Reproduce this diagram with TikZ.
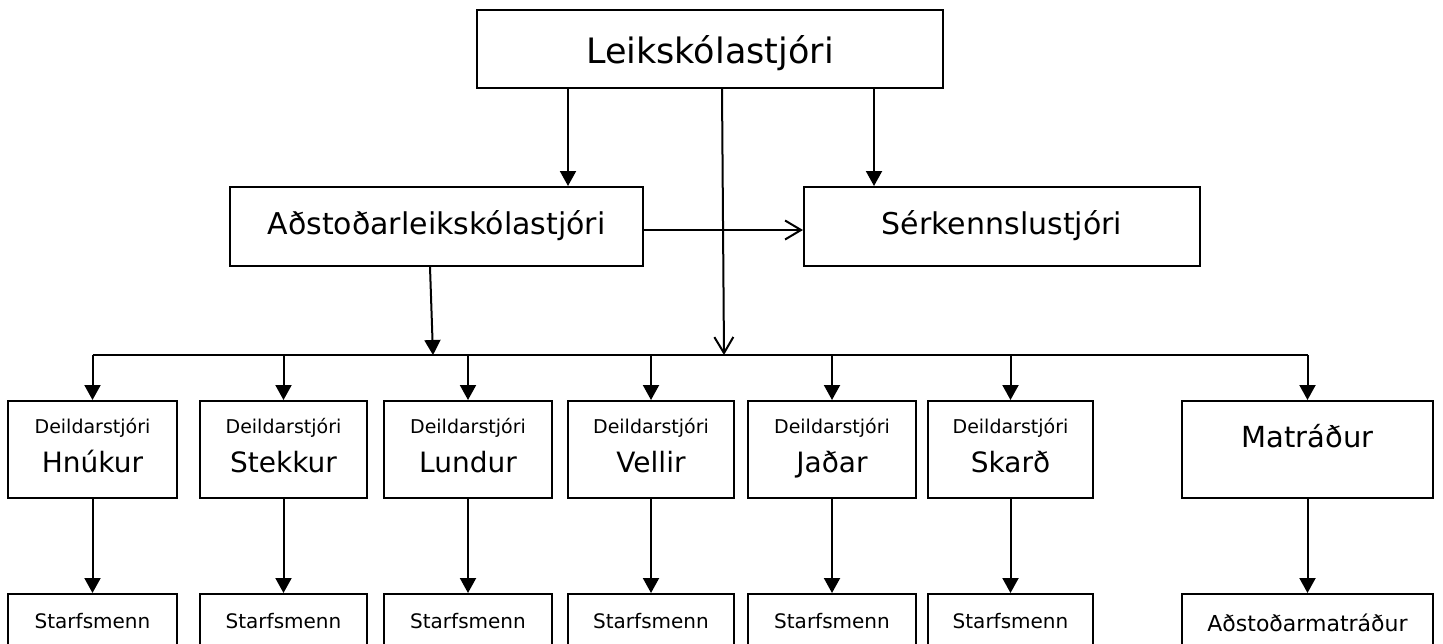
\documentclass[tikz,border=0pt]{standalone}
\usepackage{fontspec}
\setmainfont{DejaVu Sans}
\usetikzlibrary{arrows.meta}

\tikzset{
  box/.style={draw, inner sep=0pt},
  lead/.style={box, minimum width=466pt, minimum height=78pt,
    font=\fontsize{35}{42}\selectfont, text height=28pt, text depth=0pt},
  mid/.style={box, minimum height=79pt,
    font=\fontsize{30}{36}\selectfont, text height=15pt, text depth=0pt},
  dept/.style={box, minimum height=97pt,
    font=\fontsize{28}{34}\selectfont, text height=45pt, text depth=0pt,
    label={[font=\fontsize{19}{23}\selectfont, anchor=base, yshift=-33pt]north:Deildarstjóri}},
  staff/.style={box, minimum height=60pt,
    font=\fontsize{20}{24}\selectfont, text height=8pt, text depth=0pt},
  tri/.style={-{Triangle[length=15pt,width=16pt]}},
  barb/.style={-{Straight Barb[length=16pt,width=19pt]}}
}

\begin{document}
\begin{tikzpicture}[x=1pt, y=-1pt, line width=2pt]
  \clip (0,0) rectangle (1443,643);
  % top levels
  \node[lead] (lead) at (710,49) {Leikskólastjóri};
  \node[mid, minimum width=413pt] (asst) at (436.5,226.5) {Aðstoðarleikskólastjóri};
  \node[mid, minimum width=396pt] (serk) at (1002,226.5) {Sérkennslustjóri};
  % departments
  \node[dept, minimum width=169pt] (hnukur) at (92.5,449.5) {Hnúkur};
  \node[dept, minimum width=167pt] (stekkur) at (283.5,449.5) {Stekkur};
  \node[dept, minimum width=168pt] (lundur) at (468,449.5) {Lundur};
  \node[dept, minimum width=166pt] (vellir) at (651,449.5) {Vellir};
  \node[dept, minimum width=168pt] (jadar) at (832,449.5) {Jaðar};
  \node[dept, minimum width=165pt] (skard) at (1010.5,449.5) {Skarð};
  \node[box, minimum width=251pt, minimum height=97pt,
    font=\fontsize{29}{35}\selectfont, text height=0pt, text depth=5pt] (matr) at (1307.5,449.5) {Matráður};
  % staff
  \node[staff, minimum width=169pt] (hnukurS) at (92.5,624) {Starfsmenn};
  \node[staff, minimum width=167pt] (stekkurS) at (283.5,624) {Starfsmenn};
  \node[staff, minimum width=168pt] (lundurS) at (468,624) {Starfsmenn};
  \node[staff, minimum width=166pt] (vellirS) at (651,624) {Starfsmenn};
  \node[staff, minimum width=168pt] (jadarS) at (832,624) {Starfsmenn};
  \node[staff, minimum width=165pt] (skardS) at (1010.5,624) {Starfsmenn};
  \node[staff, minimum width=251pt, text height=14pt,
    font=\fontsize{22}{26}\selectfont] (matrS) at (1307.5,624) {Aðstoðarmatráður};
  % bus
  \coordinate (bus) at (0,355);
  \coordinate (busA) at (433,355);
  \coordinate (busB) at (724,355);
  \draw[tri] ([xshift=-142pt]lead.south) -- ([xshift=131.5pt]asst.north);
  \draw[tri] ([xshift=164pt]lead.south) -- ([xshift=-128pt]serk.north);
  \draw[barb] ([xshift=12pt]lead.south) -- (busB);
  \draw[barb] ([yshift=-3.5pt]asst.east) -- ([yshift=-3.5pt]serk.west);
  \draw[tri] ([xshift=-6.5pt]asst.south) -- (busA);
  \draw (hnukur.north |- bus) -- (matr.north |- bus);
  \draw[tri] (hnukur.north |- bus) -- (hnukur.north);
  \draw[tri] (stekkur.north |- bus) -- (stekkur.north);
  \draw[tri] (lundur.north |- bus) -- (lundur.north);
  \draw[tri] (vellir.north |- bus) -- (vellir.north);
  \draw[tri] (jadar.north |- bus) -- (jadar.north);
  \draw[tri] (skard.north |- bus) -- (skard.north);
  \draw[tri] (matr.north |- bus) -- (matr.north);
  \draw[tri] (hnukur) -- (hnukurS);
  \draw[tri] (stekkur) -- (stekkurS);
  \draw[tri] (lundur) -- (lundurS);
  \draw[tri] (vellir) -- (vellirS);
  \draw[tri] (jadar) -- (jadarS);
  \draw[tri] (skard) -- (skardS);
  \draw[tri] (matr) -- (matrS);
\end{tikzpicture}
\end{document}
